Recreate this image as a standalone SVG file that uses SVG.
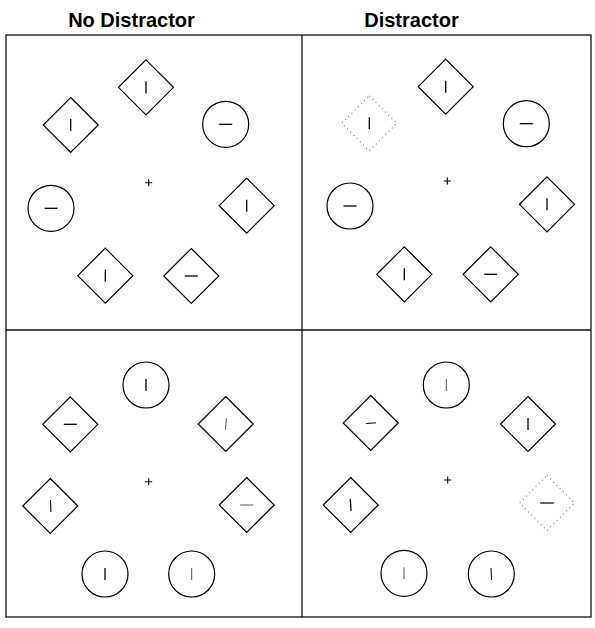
<svg xmlns="http://www.w3.org/2000/svg" width="595" height="628" viewBox="0 0 595 628">
<style>
.title{font-family:"Liberation Sans",Arial,sans-serif;font-weight:bold;font-size:20px;fill:#000}
.frame{fill:none;stroke:#111;stroke-width:1.3}
.shape{fill:none;stroke:#000;stroke-width:1.2}
.dotted{fill:none;stroke:#777;stroke-width:1.1;stroke-dasharray:1 3.5}
.bar{stroke:#000;stroke-width:1.3;stroke-linecap:butt}
.thin{stroke:#444;stroke-width:0.9}
.fix{stroke:#000;stroke-width:1.1}
</style>
<defs>
<path id="dm" d="M0,-27.5 L27.5,0 L0,27.5 L-27.5,0 Z"/>
<path id="vb" d="M0,-6 V6"/>
<path id="hb" d="M-6.5,0 H6.5"/>
<path id="cross" d="M-3.5,0 H3.5 M0,-3.5 V3.5"/>
</defs>
<rect width="595" height="628" fill="#fff"/>
<text class="title" x="131.5" y="27" text-anchor="middle">No Distractor</text>
<text class="title" x="411.5" y="27" text-anchor="middle">Distractor</text>
<g id="frame">
<rect class="frame" x="6" y="35" width="585" height="582"/>
<line class="frame" x1="302" y1="35" x2="302" y2="617"/>
<line class="frame" x1="6" y1="330" x2="591" y2="330"/>
</g>
<!-- Panel 1 -->
<g id="p1-fix"><use href="#cross" class="fix" x="148.7" y="182.7"/></g>
<g id="p1-n1"><use href="#dm" class="shape" x="146" y="87.3"/><use href="#vb" class="bar" x="146" y="87.3"/></g>
<g id="p1-n2"><use href="#dm" class="shape" x="70.7" y="125"/><use href="#vb" class="bar" x="70.7" y="125"/></g>
<g id="p1-n3"><circle class="shape" cx="225.7" cy="124.3" r="23"/><use href="#hb" class="bar" x="225.7" y="124.3"/></g>
<g id="p1-n4"><circle class="shape" cx="51" cy="208.3" r="23"/><use href="#hb" class="bar" x="51" y="208.3"/></g>
<g id="p1-n5"><use href="#dm" class="shape" x="246.7" y="205.7"/><use href="#vb" class="bar" x="246.7" y="205.7"/></g>
<g id="p1-n6"><use href="#dm" class="shape" x="105.3" y="275.7"/><use href="#vb" class="bar" x="105.3" y="275.7"/></g>
<g id="p1-n7"><use href="#dm" class="shape" x="191.3" y="276"/><use href="#hb" class="bar" x="191.3" y="276"/></g>
<!-- Panel 2 -->
<g id="p2-fix"><use href="#cross" class="fix" x="447.3" y="181"/></g>
<g id="p2-n1"><use href="#dm" class="shape" x="445.7" y="86.7"/><use href="#vb" class="bar" x="445.7" y="86.7"/></g>
<g id="p2-n2"><use href="#dm" class="dotted" x="369.3" y="123.3"/><use href="#vb" class="bar" x="369.3" y="123.3"/></g>
<g id="p2-n3"><circle class="shape" cx="526.3" cy="123.7" r="23"/><use href="#hb" class="bar" x="526.3" y="123.7"/></g>
<g id="p2-n4"><circle class="shape" cx="350" cy="206" r="23"/><use href="#hb" class="bar" x="350" y="206"/></g>
<g id="p2-n5"><use href="#dm" class="shape" x="547" y="204.3"/><use href="#vb" class="bar" x="547" y="204.3"/></g>
<g id="p2-n6"><use href="#dm" class="shape" x="404.3" y="274.3"/><use href="#vb" class="bar" x="404.3" y="274.3"/></g>
<g id="p2-n7"><use href="#dm" class="shape" x="490.7" y="274.3"/><use href="#hb" class="bar" x="490.7" y="274.3"/></g>
<!-- Panel 3 -->
<g id="p3-fix"><use href="#cross" class="fix" x="148.7" y="481.7"/></g>
<g id="p3-n1"><circle class="shape" cx="146" cy="385" r="23"/><use href="#vb" class="bar" x="146" y="385"/></g>
<g id="p3-n2"><use href="#dm" class="shape" x="70.3" y="424.3"/><use href="#hb" class="bar" x="70.3" y="424.3"/></g>
<g id="p3-n3"><use href="#dm" class="shape" x="225.7" y="424"/><path class="thin" d="M226.3,418 L225.6,430"/></g>
<g id="p3-n4"><use href="#dm" class="shape" x="50.3" y="506"/><path class="bar" d="M50.6,500 L50.9,512" style="stroke-width:1.1"/></g>
<g id="p3-n5"><use href="#dm" class="shape" x="246.7" y="505"/><path class="thin" d="M240.2,505 H253.2"/></g>
<g id="p3-n6"><circle class="shape" cx="105" cy="574" r="23"/><use href="#vb" class="bar" x="105" y="574"/></g>
<g id="p3-n7"><circle class="shape" cx="191.7" cy="574" r="23"/><path class="thin" d="M191.7,568 V580"/></g>
<!-- Panel 4 -->
<g id="p4-fix"><use href="#cross" class="fix" x="447.7" y="480"/></g>
<g id="p4-n1"><circle class="shape" cx="446.3" cy="385" r="23"/><path class="thin" d="M446.3,379 V391"/></g>
<g id="p4-n2"><use href="#dm" class="shape" x="370.7" y="423"/><path class="bar" d="M366,423.5 L376,422.8" style="stroke-width:1"/></g>
<g id="p4-n3"><use href="#dm" class="shape" x="528" y="424"/><use href="#vb" class="bar" x="528" y="424"/></g>
<g id="p4-n4"><use href="#dm" class="shape" x="350.7" y="505"/><path class="bar" d="M350.3,499 L351,511"/></g>
<g id="p4-n5"><use href="#dm" class="dotted" x="547" y="503"/><path class="bar" d="M540.2,503 H553.8" style="stroke-width:1.5;stroke:#333"/></g>
<g id="p4-n6"><circle class="shape" cx="404" cy="573.3" r="23"/><path class="thin" d="M404,567.3 V579.3"/></g>
<g id="p4-n7"><circle class="shape" cx="491.3" cy="574" r="23"/><path class="bar" d="M491,568 L491.5,580" style="stroke-width:1"/></g>
</svg>
